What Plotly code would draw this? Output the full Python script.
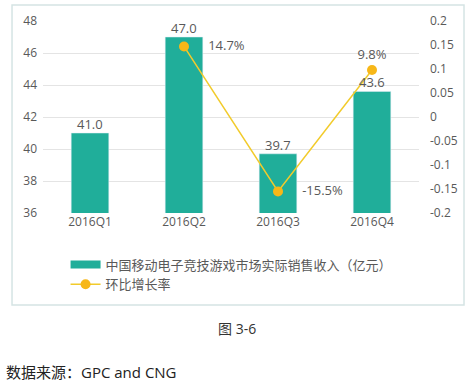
import plotly.graph_objects as go

categories = ["2016Q1", "2016Q2", "2016Q3", "2016Q4"]
revenue = [41.0, 47.0, 39.7, 43.6]
growth = [None, 0.147, -0.155, 0.098]
growth_labels = ["", "14.7%", "-15.5%", "9.8%"]
left_ticks = [36, 38, 40, 42, 44, 46, 48]
right_ticks = [-0.2, -0.15, -0.1, -0.05, 0, 0.05, 0.1, 0.15, 0.2]
right_ticktext = ["-0.2", "-0.15", "-0.1", "-0.05", "0", "0.05", "0.1", "0.15", "0.2"]
bar_name = "中国移动电子竞技游戏市场实际销售收入（亿元）"
line_name = "环比增长率"
caption = "图 3-6"
source = "数据来源：GPC and CNG"

FONT = "Open Sans, Noto Sans CJK SC, sans-serif"
GRAY = "#595959"
TEAL = "#20AE9A"

fig = go.Figure()
fig.add_trace(go.Bar(
    x=categories, y=revenue, name=bar_name, showlegend=False,
    marker=dict(color=TEAL), width=0.4,
    cliponaxis=False, hoverinfo="skip",
))
# legend entry for the bars (wide rectangle swatch like the original)
fig.add_trace(go.Scatter(
    x=[None], y=[None], name=bar_name, mode="lines",
    line=dict(color=TEAL, width=8), hoverinfo="skip",
))
fig.add_trace(go.Scatter(
    x=categories, y=growth, name=line_name, yaxis="y2",
    mode="lines+markers+text",
    line=dict(color="#F2CB2B", width=1.5),
    marker=dict(color="#F7B718", size=10),
    text=["", "     " + growth_labels[1], "     " + growth_labels[2], growth_labels[3]],
    textposition=["middle right", "middle right", "middle right", "top center"],
    textfont=dict(size=13, color=GRAY, family=FONT),
    cliponaxis=False, hoverinfo="skip",
))

# bar value labels
for c, v in zip(categories, revenue):
    fig.add_annotation(x=c, y=v, xref="x", yref="y", text=f"{v:.1f}",
                       showarrow=False, xanchor="center", yanchor="bottom",
                       yshift=-2, font=dict(size=13, color=GRAY, family=FONT))

fig.update_layout(
    width=473, height=390,
    margin=dict(l=43, r=54, t=21, b=177, autoexpand=False),
    paper_bgcolor="white", plot_bgcolor="white",
    font=dict(family=FONT, color=GRAY, size=12),
    showlegend=True,
    xaxis=dict(showgrid=False, showline=False, ticks="",
               tickfont=dict(size=12, color=GRAY), automargin=False),
    yaxis=dict(range=[36, 48], tickvals=left_ticks, showgrid=True,
               gridcolor="#E4E4E4", zeroline=False, showline=False,
               tickfont=dict(size=12, color=GRAY), ticklabelstandoff=5,
               automargin=False),
    yaxis2=dict(range=[-0.2, 0.2], overlaying="y", side="right",
                tickvals=right_ticks, ticktext=right_ticktext,
                showgrid=False, zeroline=False, showline=False,
                tickfont=dict(size=12, color=GRAY), ticklabelstandoff=10,
                automargin=False),
    legend=dict(x=0.06, y=-0.19, xanchor="left", yanchor="top",
                font=dict(size=13, color=GRAY, family=FONT),
                bgcolor="rgba(0,0,0,0)", tracegroupgap=0),
)

fig.add_shape(type="rect", xref="paper", yref="paper",
              x0=-0.0824, x1=1.1197, y0=-0.479, y1=1.0833,
              line=dict(color="#D5E4E4", width=1.5), fillcolor="rgba(0,0,0,0)",
              layer="below")

fig.add_annotation(text=caption, xref="paper", yref="paper",
                   x=(237 - 43) / 376, y=-0.604, showarrow=False,
                   xanchor="center", yanchor="middle",
                   font=dict(size=14, color="#333333", family=FONT))
fig.add_annotation(text=source, xref="paper", yref="paper",
                   x=-0.103, y=-0.826, showarrow=False,
                   xanchor="left", yanchor="middle",
                   font=dict(size=15, color="#222222", family=FONT))

fig.write_html("out.html", config={"displayModeBar": False},
               post_script="document.body.style.margin='0';document.body.style.overflow='hidden';")
